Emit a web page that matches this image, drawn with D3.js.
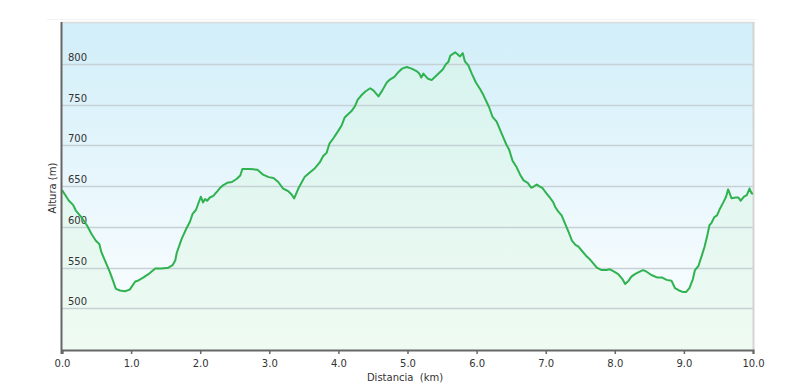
<!DOCTYPE html>
<html>
<head>
<meta charset="utf-8">
<script src="https://cdn.jsdelivr.net/npm/d3@7"></script>
<style>
  body { margin: 0; background: #fff; }
  text { font-family: "DejaVu Sans", Verdana, sans-serif; fill: #333; }
</style>
</head>
<body>
<svg id="perfil" width="800" height="383"></svg>
<script>
// distance along the route (km) and altitude (m)
var distKm = [0.00, 0.04, 0.10, 0.16, 0.20, 0.28, 0.36, 0.43, 0.49, 0.54, 0.57, 0.63, 0.69, 0.73, 0.78, 0.84, 0.91, 0.98,
  1.06, 1.10, 1.18, 1.25, 1.35, 1.44, 1.54, 1.60, 1.64, 1.66, 1.73, 1.80, 1.85, 1.89, 1.94, 1.97,
  2.01, 2.04, 2.07, 2.10, 2.14, 2.19, 2.24, 2.28, 2.33, 2.39, 2.46, 2.53, 2.58, 2.61, 2.72, 2.83, 2.91, 2.99,
  3.06, 3.13, 3.20, 3.27, 3.32, 3.36, 3.42, 3.51, 3.59, 3.66, 3.73, 3.78, 3.83, 3.87, 3.93,
  4.00, 4.05, 4.09, 4.14, 4.19, 4.24, 4.28, 4.34, 4.39, 4.46, 4.51, 4.58, 4.64, 4.70, 4.75, 4.81, 4.87, 4.92, 4.99,
  5.06, 5.13, 5.17, 5.20, 5.23, 5.29, 5.35, 5.40, 5.46, 5.51, 5.56, 5.59, 5.62, 5.69, 5.72, 5.76, 5.80, 5.83, 5.88, 5.93, 5.99,
  6.05, 6.09, 6.14, 6.18, 6.23, 6.29, 6.36, 6.43, 6.47, 6.52, 6.58, 6.63, 6.68, 6.74, 6.79, 6.82, 6.87, 6.92, 6.95,
  7.01, 7.06, 7.11, 7.14, 7.18, 7.23, 7.28, 7.33, 7.38, 7.43, 7.47, 7.52, 7.58, 7.63, 7.67, 7.74, 7.81, 7.88, 7.93, 7.99,
  8.05, 8.11, 8.15, 8.20, 8.24, 8.29, 8.36, 8.41, 8.46, 8.53, 8.61, 8.68, 8.75, 8.82, 8.87, 8.93, 8.99,
  9.03, 9.08, 9.13, 9.16, 9.21, 9.26, 9.30, 9.34, 9.37, 9.40, 9.44, 9.48, 9.52, 9.57, 9.61, 9.64, 9.69, 9.75, 9.79, 9.82, 9.87, 9.91, 9.95, 9.98, 10.00];

var altM = [645, 640, 632, 627, 620, 612, 602, 591, 583, 579, 569, 557, 545, 536, 524, 522, 521, 523,
  533, 534, 538, 542, 549, 549, 550, 553, 559, 568, 585, 598, 606, 616, 621, 628,
  637, 630, 634, 632, 636, 638, 643, 647, 651, 654, 655, 659, 663, 671, 671, 670, 664, 661,
  660, 655, 647, 644, 640, 635, 647, 661, 667, 672, 679, 687, 691, 702, 709,
  718, 725, 734, 738, 742, 748, 756, 762, 766, 770, 767, 760, 768, 777, 781, 784, 790, 794, 796,
  794, 791, 788, 783, 788, 782, 780, 784, 789, 793, 800, 802, 810, 814, 812, 809, 813, 803, 798, 788, 777,
  769, 763, 754, 747, 735, 729, 715, 701, 695, 681, 673, 664, 657, 654, 648, 649, 652, 649, 648,
  641, 636, 630, 624, 619, 614, 604, 594, 583, 578, 576, 571, 565, 561, 557, 550, 547, 547, 548, 545,
  542, 536, 530, 534, 539, 542, 545, 547, 545, 541, 538, 538, 535, 534, 525, 522, 520,
  520, 525, 536, 547, 552, 565, 576, 590, 602, 605, 612, 614, 622, 630, 637, 646, 635, 636, 636, 632, 637, 639, 647, 641, 641];

var xTicks = [0, 1, 2, 3, 4, 5, 6, 7, 8, 9, 10];
var yTicks = [500, 550, 600, 650, 700, 750, 800];

var points = distKm.map(function(d, i) { return { km: d, alt: altM[i] }; });

var svg = d3.select('#perfil');

var margin = { top: 23, right: 47, bottom: 33, left: 62 };
var width = 800, height = 383;
var bottomY = height - margin.bottom;   // 350
var rightX = width - margin.right;      // 753

var xScale = d3.scaleLinear().domain([0, 10]).range([margin.left, rightX]);
var yScale = d3.scaleLinear().domain([449, 850]).range([bottomY, margin.top]);

// gradients for the plot background and the area under the line
var defs = svg.append('defs');
var bg = defs.append('linearGradient').attr('id', 'bgGrad')
  .attr('gradientUnits', 'userSpaceOnUse')
  .attr('x1', 0).attr('y1', margin.top).attr('x2', 0).attr('y2', bottomY);
bg.append('stop').attr('offset', '0%').attr('stop-color', '#d1eef9');
bg.append('stop').attr('offset', '75%').attr('stop-color', '#f4fbfe');
bg.append('stop').attr('offset', '100%').attr('stop-color', '#fbfeff');

var areaGrad = defs.append('linearGradient').attr('id', 'areaGrad')
  .attr('gradientUnits', 'userSpaceOnUse')
  .attr('x1', 0).attr('y1', margin.top).attr('x2', 0).attr('y2', bottomY);
areaGrad.append('stop').attr('offset', '0%').attr('stop-color', '#d5f2ee');
areaGrad.append('stop').attr('offset', '100%').attr('stop-color', '#effbf2');

// faint outer frame line
svg.append('line')
  .attr('x1', 47).attr('x2', 756).attr('y1', 19.5).attr('y2', 19.5)
  .attr('stroke', '#f2f2f2').attr('stroke-width', 1);

svg.append('rect')
  .attr('x', margin.left).attr('y', margin.top)
  .attr('width', rightX - margin.left).attr('height', bottomY - margin.top)
  .attr('fill', 'url(#bgGrad)');

// area under the profile
var area = d3.area()
  .x(function(d) { return xScale(d.km); })
  .y0(bottomY)
  .y1(function(d) { return yScale(d.alt); });

svg.append('path')
  .datum(points)
  .attr('d', area)
  .attr('fill', 'url(#areaGrad)');

// horizontal grid lines
svg.append('g')
  .selectAll('line')
  .data(yTicks)
  .enter()
  .append('line')
  .attr('x1', margin.left).attr('x2', rightX)
  .attr('y1', function(d) { return Math.round(yScale(d)) + 0.5; })
  .attr('y2', function(d) { return Math.round(yScale(d)) + 0.5; })
  .attr('stroke', '#c6d1d6').attr('stroke-width', 1.5);

// y labels sit inside the plot, just above their grid line
svg.append('g')
  .selectAll('text')
  .data(yTicks)
  .enter()
  .append('text')
  .attr('x', margin.left + 6)
  .attr('y', function(d) { return Math.round(yScale(d)) - 3; })
  .style('font-size', '10px')
  .text(function(d) { return d; });

// top and right border
svg.append('line')
  .attr('x1', margin.left).attr('x2', rightX + 1)
  .attr('y1', margin.top - 0.5).attr('y2', margin.top - 0.5)
  .attr('stroke', '#dcdcdc').attr('stroke-width', 1.5);
svg.append('line')
  .attr('x1', rightX + 0.5).attr('x2', rightX + 0.5)
  .attr('y1', margin.top - 1).attr('y2', bottomY)
  .attr('stroke', '#d4d4d4').attr('stroke-width', 2);

// profile line
var line = d3.line()
  .x(function(d) { return xScale(d.km); })
  .y(function(d) { return yScale(d.alt); });

svg.append('path')
  .datum(points)
  .attr('d', line)
  .attr('fill', 'none')
  .attr('stroke', '#2fb250')
  .attr('stroke-width', 2)
  .attr('stroke-linejoin', 'round');

// x axis
var xAxis = svg.append('g')
  .attr('transform', 'translate(0,' + bottomY + ')')
  .call(d3.axisBottom(xScale)
    .tickValues(xTicks)
    .tickSize(4)
    .tickPadding(6)
    .tickFormat(d3.format('.1f')));
xAxis.select('.domain').attr('stroke', '#666').attr('stroke-width', 2);
xAxis.selectAll('.tick line').attr('stroke', '#666').attr('stroke-width', 1.5);
xAxis.selectAll('.tick text')
  .style('font-family', '"DejaVu Sans", Verdana, sans-serif')
  .style('font-size', '10px')
  .attr('fill', '#333');

// left axis line
svg.append('line')
  .attr('x1', margin.left - 0.5).attr('x2', margin.left - 0.5)
  .attr('y1', margin.top - 1).attr('y2', bottomY + 4)
  .attr('stroke', '#666').attr('stroke-width', 2);

// axis titles
svg.append('text')
  .attr('x', 405).attr('y', 381)
  .attr('text-anchor', 'middle')
  .style('font-size', '10px')
  .style('white-space', 'pre')
  .text('Distancia  (km)');

svg.append('text')
  .attr('transform', 'translate(56,188) rotate(-90)')
  .attr('text-anchor', 'middle')
  .style('font-size', '10px')
  .text('Altura (m)');
</script>
</body>
</html>
